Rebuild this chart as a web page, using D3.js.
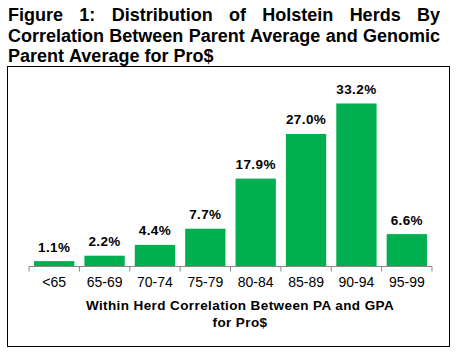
<!DOCTYPE html>
<html lang="en">
<head>
<meta charset="UTF-8">
<title>Distribution of Holstein Herds</title>
<script src="https://d3js.org/d3.v7.min.js"></script>
<style>
    body {
        margin: 0;
        background-color: #fff;
        font-family: "Liberation Sans", Arial, sans-serif;
    }
    .tick text {
        font-size: 14px;
        fill: #000;
    }
</style>
</head>
<body>
<div id="chart"></div>
<script>
    const categories = ["<65", "65-69", "70-74", "75-79", "80-84", "85-89", "90-94", "95-99"];
    const percents = [1.1, 2.2, 4.4, 7.7, 17.9, 27.0, 33.2, 6.6];
    const titleLines = [
        "Figure 1: Distribution of Holstein Herds By",
        "Correlation Between Parent Average and Genomic",
        "Parent Average for Pro$"
    ];
    const axisTitle = ["Within Herd Correlation Between PA and GPA", "for Pro$"];

    const W = 456, H = 353;
    const svg = d3.select("#chart").append("svg")
        .attr("width", W)
        .attr("height", H);

    // title, first two lines justified
    const titleLeft = 8, titleRight = 440;
    titleLines.forEach((line, i) => {
        const t = svg.append("text")
            .attr("y", 21 + i * 20.5)
            .attr("font-size", "18px")
            .attr("font-weight", "bold");
        const words = line.split(" ");
        const spans = words.map(w => t.append("tspan").text(w));
        const widths = spans.map(s => s.node().getComputedTextLength());
        const total = d3.sum(widths);
        const justify = i < titleLines.length - 1;
        const gap = justify ? (titleRight - titleLeft - total) / (words.length - 1) : 5;
        let x = titleLeft;
        spans.forEach((s, j) => {
            s.attr("x", x);
            x += widths[j] + gap;
        });
    });

    // frame
    svg.append("rect")
        .attr("x", 7.5)
        .attr("y", 66.5)
        .attr("width", 442)
        .attr("height", 280)
        .attr("fill", "none")
        .attr("stroke", "#000")
        .attr("stroke-width", 1);

    const x = d3.scaleBand()
        .domain(categories)
        .range([29, 432])
        .paddingInner(0.2)
        .paddingOuter(0.1);

    const y = d3.scaleLinear()
        .domain([0, 35])
        .range([266.5, 266.5 - 35 * 4.91]);

    svg.selectAll(".bar")
        .data(percents)
        .join("rect")
        .attr("class", "bar")
        .attr("x", (d, i) => x(categories[i]))
        .attr("y", d => y(d))
        .attr("width", x.bandwidth())
        .attr("height", d => y(0) - y(d))
        .attr("fill", "#00B050");

    svg.selectAll(".val")
        .data(percents)
        .join("text")
        .attr("class", "val")
        .attr("x", (d, i) => x(categories[i]) + x.bandwidth() / 2)
        .attr("y", d => y(d) - 9.5)
        .attr("text-anchor", "middle")
        .attr("font-size", "13.5px")
        .attr("letter-spacing", "0.4px")
        .attr("font-weight", "bold")
        .text(d => d.toFixed(1) + "%");

    // axis with ticks between categories
    const axis = svg.append("g")
        .attr("transform", `translate(0,${y(0)})`)
        .call(d3.axisBottom(x).tickSize(0).tickPadding(11));
    axis.select(".domain").attr("stroke", "#888").attr("d", `M29,0H432`);
    const step = x.step();
    const edges = d3.range(categories.length + 1).map(i => 29 + i * step);
    axis.selectAll(".sep")
        .data(edges)
        .join("line")
        .attr("class", "sep")
        .attr("x1", d => d).attr("x2", d => d)
        .attr("y1", 0).attr("y2", 5)
        .attr("stroke", "#888");
    axis.selectAll(".tick text").attr("font-family", "Liberation Sans, Arial, sans-serif");

    svg.selectAll(".axtitle")
        .data(axisTitle)
        .join("text")
        .attr("class", "axtitle")
        .attr("x", 240)
        .attr("y", (d, i) => 310 + i * 16.5)
        .attr("text-anchor", "middle")
        .attr("font-size", "13.5px")
        .attr("letter-spacing", "0.4px")
        .attr("font-weight", "bold")
        .text(d => d);
</script>
</body>
</html>
